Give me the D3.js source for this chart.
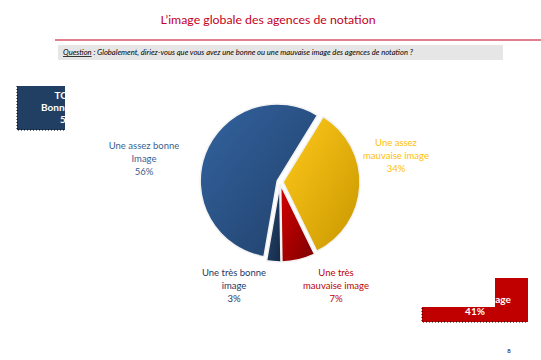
<!DOCTYPE html>
<html>
<head>
<meta charset="utf-8">
<script src="https://cdn.jsdelivr.net/npm/d3@7"></script>
<style>
  body { margin: 0; background: #fff; }
  svg { display: block; font-family: Lato, "Open Sans", sans-serif; }
</style>
</head>
<body>
<div id="chart"></div>
<script>
// data
const titleText = "L\u2019image globale des agences de notation";
const questionLabel = "Question";
const questionText = " : Globalement, diriez-vous que vous avez une bonne ou une mauvaise image des agences de notation ?";
const categories = ["Une assez mauvaise image", "Une très mauvaise image", "Une très bonne image", "Une assez bonne image"];
const labelLines = [["Une assez", "mauvaise image"], ["Une très", "mauvaise image"], ["Une très bonne", "image"], ["Une assez bonne", "Image"]];
const values = [34, 7, 3, 56];
const totalGood = ["TOTAL", "Bonne image"];
const totalBad = ["TOTAL", "Mauvaise image"];
const pageNumber = "8";

// styles
const sliceColors = [
  ["#ffc91a", "#c99700"],
  ["#d40000", "#7c0000"],
  ["#2a4a73", "#142a47"],
  ["#3363a0", "#203f67"]
];
const labelColors = ["#ffc000", "#c00000", "#1f3864", "#3a5f92"];
// label offsets from pie centre (x, y of first line)
const labelPos = [[116, -36], [56, 94], [-46, 94], [-136, -33]];

const width = 541, height = 360;
const cx = 280, cy = 182, radius = 77, explode = 3;

const svg = d3.select("#chart").append("svg")
  .attr("width", width).attr("height", height);

const defs = svg.append("defs");
sliceColors.forEach((c, i) => {
  const g = defs.append("linearGradient").attr("id", "grad" + i)
    .attr("x1", "0%").attr("y1", "0%").attr("x2", "100%").attr("y2", "100%");
  g.append("stop").attr("offset", "0%").attr("stop-color", c[0]);
  g.append("stop").attr("offset", "100%").attr("stop-color", c[1]);
});

// title
svg.append("text")
  .attr("x", 268).attr("y", 24)
  .attr("text-anchor", "middle")
  .attr("font-size", "12.3px")
  .attr("fill", "#c4001e")
  .text(titleText);

svg.append("line")
  .attr("x1", 55).attr("x2", width)
  .attr("y1", 40).attr("y2", 40)
  .attr("stroke", "#c4001e").attr("stroke-width", 1.2);

// question box
svg.append("rect")
  .attr("x", 58).attr("y", 45).attr("width", 445).attr("height", 15)
  .attr("fill", "#e6e6e6");

const q = svg.append("text")
  .attr("x", 63).attr("y", 55)
  .attr("font-size", "7.6px")
  .attr("font-style", "italic")
  .attr("fill", "#000");
q.append("tspan").attr("text-decoration", "underline").text(questionLabel);
q.append("tspan").text(questionText);

// total boxes (partly hidden behind the chart area)
const good = values[2] + values[3];
const bad = values[0] + values[1];

function totalBox(x, y, w, h, fill, lines, pct) {
  svg.append("rect").attr("x", x).attr("y", y).attr("width", w).attr("height", h).attr("fill", fill);
  const t = svg.append("text")
    .attr("text-anchor", "middle")
    .attr("font-size", "10px")
    .attr("font-weight", "bold")
    .attr("fill", "#fff");
  lines.concat([pct + "%"]).forEach((l, i) => {
    t.append("tspan").attr("x", x + w / 2).attr("y", y + 13 + i * 12).text(l);
  });
  svg.append("path")
    .attr("d", `M${x},${y}V${y + h}H${x + w}`)
    .attr("fill", "none")
    .attr("stroke", "#000")
    .attr("stroke-dasharray", "1,2");
}
totalBox(17, 86, 106, 44, "#213f63", totalGood, good);
totalBox(422, 278, 106, 44, "#c00000", totalBad, bad);

// chart area covering the boxes
svg.append("rect")
  .attr("x", 65).attr("y", 64).attr("width", 430).attr("height", 243)
  .attr("fill", "#fff");

// pie
const pie = d3.pie().sort(null).value(d => d)
  .startAngle(31.5 * Math.PI / 180)
  .endAngle(31.5 * Math.PI / 180 + 2 * Math.PI);
const arc = d3.arc().innerRadius(0).outerRadius(radius);
const arcs = pie(values);

const g = svg.append("g").attr("transform", `translate(${cx},${cy})`);

g.selectAll("path.slice")
  .data(arcs)
  .enter().append("path")
  .attr("class", "slice")
  .attr("transform", d => {
    const a = (d.startAngle + d.endAngle) / 2;
    return `translate(${Math.sin(a) * explode},${-Math.cos(a) * explode})`;
  })
  .attr("d", arc)
  .attr("fill", (d, i) => `url(#grad${i})`)
  .attr("stroke", "#f2f2f2")
  .attr("stroke-width", 1.5)
  .attr("stroke-linejoin", "round");

// labels
arcs.forEach((d, i) => {
  const t = g.append("text")
    .attr("text-anchor", "middle")
    .attr("font-size", "9.5px")
    .attr("fill", labelColors[i]);
  labelLines[i].concat([d.data + "%"]).forEach((l, j) => {
    t.append("tspan").attr("x", labelPos[i][0]).attr("y", labelPos[i][1] + j * 13).text(l);
  });
});

// page number
svg.append("text")
  .attr("x", 509).attr("y", 353)
  .attr("text-anchor", "middle")
  .attr("font-size", "6px")
  .attr("font-weight", "bold")
  .attr("fill", "#3a3a7a")
  .text(pageNumber);
</script>
</body>
</html>
